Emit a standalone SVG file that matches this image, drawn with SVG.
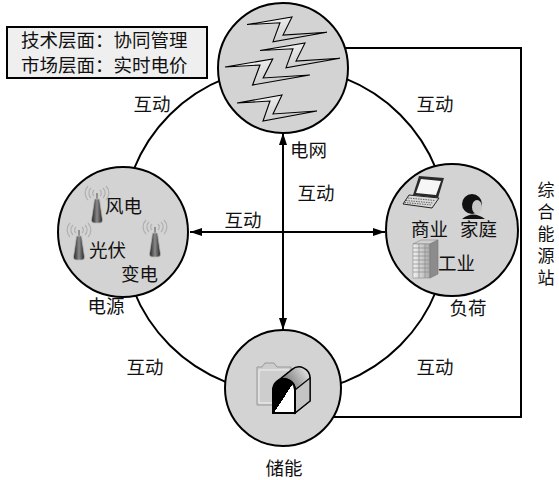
<svg xmlns="http://www.w3.org/2000/svg" width="559" height="480" viewBox="0 0 559 480">
  <style>
    text { font-family: "Noto Sans CJK SC", "Noto Sans CJK TC", sans-serif; fill: #111; }
    .lbl { font-size: 18.5px; }
    .vert { font-size: 17px; writing-mode: vertical-rl; letter-spacing: 5px; }
    .node { fill: #d3d3d3; stroke: #000; stroke-width: 2; }
    .link { fill: none; stroke: #000; stroke-width: 2; }
    .bolt { fill: url(#boltGrad); stroke: #000; stroke-width: 1.1; stroke-linejoin: miter; }
    .wave { fill: none; stroke: #b0b0b0; stroke-width: 1.2; }
  </style>
  <defs>
    <marker id="arrow" viewBox="0 0 12 8" refX="12" refY="4" markerWidth="12" markerHeight="8" markerUnits="userSpaceOnUse" orient="auto-start-reverse">
      <path d="M0,0 L12,4 L0,8 Z" fill="#000"/>
    </marker>
    <linearGradient id="boltGrad" x1="0" y1="0" x2="1" y2="1">
      <stop offset="0" stop-color="#ffffff"/>
      <stop offset="1" stop-color="#b8b8b8"/>
    </linearGradient>
    <linearGradient id="towerGrad" x1="0" y1="0" x2="1" y2="0">
      <stop offset="0" stop-color="#1e1e1e"/>
      <stop offset="0.5" stop-color="#8a8a8a"/>
      <stop offset="1" stop-color="#222"/>
    </linearGradient>
    <linearGradient id="bldGrad" x1="0" y1="0" x2="1" y2="0">
      <stop offset="0" stop-color="#f2f2f2"/>
      <stop offset="1" stop-color="#a9a9a9"/>
    </linearGradient>
    <linearGradient id="boxGrad" x1="0" y1="1" x2="1" y2="0">
      <stop offset="0" stop-color="#111"/>
      <stop offset="0.6" stop-color="#9a9a9a"/>
      <stop offset="1" stop-color="#f0f0f0"/>
    </linearGradient>
    <linearGradient id="archGrad" x1="0" y1="0" x2="1" y2="1">
      <stop offset="0" stop-color="#000"/>
      <stop offset="0.52" stop-color="#000"/>
      <stop offset="0.52" stop-color="#fff"/>
      <stop offset="1" stop-color="#fff"/>
    </linearGradient>
    <path id="boltShape" d="M0,8 L45,0 L36,19 L80,16 L26,26 L33,6 Z"/>
    <g id="tower">
      <path class="wave" d="M-3,5 A4,4 0 0 0 -3,11 M3,5 A4,4 0 0 1 3,11 M-6,3 A7,7 0 0 0 -6,13 M6,3 A7,7 0 0 1 6,13 M-9,1 A10,10 0 0 0 -9,15 M9,1 A10,10 0 0 1 9,15"/>
      <line x1="0" y1="8" x2="0" y2="15" stroke="#666" stroke-width="1.2"/>
      <path d="M-2.5,14 L2.5,14 L5.5,35 Q5.5,38 3,38 L-3,38 Q-5.5,38 -5.5,35 Z" fill="url(#towerGrad)" stroke="#bbb" stroke-width="0.8"/>
    </g>
  </defs>

  <rect width="559" height="480" fill="#fff"/>

  <!-- connectors -->
  <g id="connectors">
    <circle class="link" cx="285" cy="230" r="163"/>
    <polyline class="link" points="340,48 521,48 521,417 330,417"/>
    <line class="link" x1="283" y1="133" x2="283" y2="330" marker-start="url(#arrow)" marker-end="url(#arrow)"/>
    <line class="link" x1="190" y1="232" x2="385" y2="232" marker-start="url(#arrow)" marker-end="url(#arrow)"/>
  </g>

  <!-- legend -->
  <g id="legend">
    <rect x="7" y="27" width="200" height="51" fill="#efefef" stroke="#000" stroke-width="2"/>
    <text class="lbl" x="21" y="47">技术层面：协同管理</text>
    <text class="lbl" x="21" y="72">市场层面：实时电价</text>
  </g>

  <!-- grid node -->
  <g id="grid">
    <circle class="node" cx="283" cy="68" r="65"/>
    <use href="#boltShape" class="bolt" transform="translate(247,17) scale(1,0.95)"/>
    <use href="#boltShape" class="bolt" transform="translate(260,43) scale(1,0.95)"/>
    <use href="#boltShape" class="bolt" transform="translate(225,59) scale(1.06,1)"/>
    <use href="#boltShape" class="bolt" transform="translate(237,95)"/>
    <text class="lbl" x="290" y="157">电网</text>
  </g>

  <!-- source node -->
  <g id="source">
    <circle class="node" cx="123" cy="232" r="65"/>
    <use href="#tower" transform="translate(97,185)"/>
    <use href="#tower" transform="translate(79,222)"/>
    <use href="#tower" transform="translate(155,219)"/>
    <text class="lbl" x="105" y="213">风电</text>
    <text class="lbl" x="89" y="257">光伏</text>
    <text class="lbl" x="121" y="281">变电</text>
    <text class="lbl" x="106" y="313" text-anchor="middle">电源</text>
  </g>

  <!-- load node -->
  <g id="load">
    <circle class="node" cx="452" cy="230" r="66"/>
    <!-- laptop -->
    <polygon points="419,176 444,178 438,198 413,195" fill="#2a2a2a"/>
    <polygon points="421,179 441,181 436,195 416,193" fill="#f6f6f6"/>
    <polygon points="409,195 439,198 432,208 403,204" fill="#d9d9d9" stroke="#222" stroke-width="1"/>
    <path d="M408,198 L435,200.5 M406,200.5 L433,203 M404.5,202.5 L431.5,205" stroke="#444" stroke-width="0.8" stroke-dasharray="1.5,1"/>
    <!-- person -->
    <circle cx="472" cy="204" r="10" fill="#111"/>
    <ellipse cx="477" cy="207" rx="5" ry="7" fill="#c8c8c8"/>
    <path d="M462,219 Q473,210 485,219 Z" fill="#111"/>
    <!-- building -->
    <polygon points="413,244 421,240 438,240 430,244" fill="#d0d0d0" stroke="#888" stroke-width="0.6"/>
    <rect x="413" y="244" width="17" height="34" fill="url(#bldGrad)" stroke="#888" stroke-width="0.6"/>
    <polygon points="430,244 438,240 438,274 430,278" fill="#8c8c8c" stroke="#777" stroke-width="0.6"/>
    <path d="M413,248 H430 M413,252 H430 M413,256 H430 M413,260 H430 M413,264 H430 M413,268 H430 M413,272 H430 M419,244 V278 M425,244 V278" stroke="#8a8a8a" stroke-width="0.7"/>
    <text class="lbl" x="411" y="236">商业</text>
    <text class="lbl" x="460" y="236">家庭</text>
    <text class="lbl" x="438" y="270">工业</text>
    <text class="lbl" x="468" y="315" text-anchor="middle">负荷</text>
  </g>

  <!-- storage node -->
  <g id="storage">
    <circle class="node" cx="283" cy="388" r="58"/>
    <!-- folder -->
    <path d="M257,367 H262 L265,363 H274 L277,367 H291 V405 H257 Z" fill="#cdcdcd" stroke="#999" stroke-width="1"/>
    <path d="M259,370 H289 V403 H259 Z" fill="none" stroke="#f2f2f2" stroke-width="1"/>
    <!-- mailbox -->
    <path d="M277.1,381.4 L292.1,369.4 A11,11 0 0 1 310,378 L310,401 L295,413 L295,390 A11,11 0 0 0 277.1,381.4 Z" fill="url(#boxGrad)" stroke="#000" stroke-width="1.5"/>
    <path d="M295,390 L310,378 L310,401 L295,413 Z" fill="#c4c4c4" stroke="#000" stroke-width="1.2"/>
    <path d="M273,413 V390 A11,11 0 0 1 295,390 V413 Z" fill="url(#archGrad)" stroke="#000" stroke-width="2"/>
    <text class="lbl" x="284" y="475" text-anchor="middle">储能</text>
  </g>

  <!-- interaction labels -->
  <g id="labels">
    <text class="lbl" x="152" y="111" text-anchor="middle">互动</text>
    <text class="lbl" x="435" y="111" text-anchor="middle">互动</text>
    <text class="lbl" x="316" y="200" text-anchor="middle">互动</text>
    <text class="lbl" x="243" y="227" text-anchor="middle">互动</text>
    <text class="lbl" x="145" y="374" text-anchor="middle">互动</text>
    <text class="lbl" x="435" y="374" text-anchor="middle">互动</text>
  </g>

  <!-- station label, written top to bottom -->
  <g id="station">
    <text class="vert" x="546" y="181">综合能源站</text>
  </g>
</svg>
